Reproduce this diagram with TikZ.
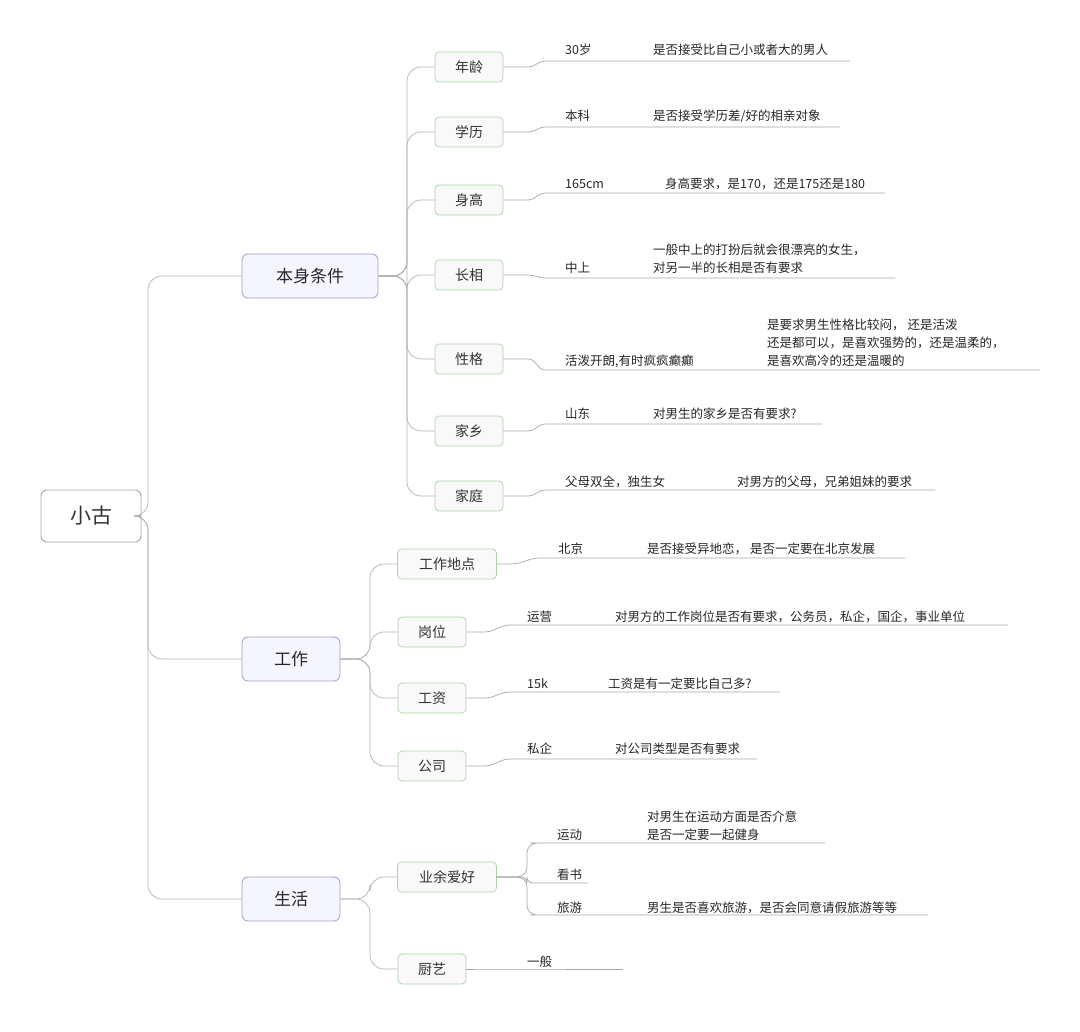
\documentclass[tikz,border=0pt]{standalone}
\usepackage{fontspec}
\setmainfont{Noto Sans CJK SC}
\usetikzlibrary{calc}
\begin{document}
\begin{tikzpicture}[x=1pt,y=-1pt,
  root/.style={draw=gray!70,fill=white,rounded corners=6,line width=0.9pt,minimum width=100pt,minimum height=52pt,font=\fontsize{21}{24}\selectfont,text=black!80},
  lone/.style={draw=blue!30!gray!60,fill=blue!4,rounded corners=6,line width=0.8pt,minimum height=44pt,font=\fontsize{17}{20}\selectfont,text=black!85},
  ltwo/.style={draw=green!30!gray!50,fill=green!6!gray!5,rounded corners=4,line width=0.7pt,minimum height=30pt,minimum width=68pt,font=\fontsize{14}{17}\selectfont,text=black!80},
  lt/.style={anchor=base west,inner sep=0pt,font=\fontsize{12.5}{18}\selectfont,text=black!85,align=left},
  ln/.style={draw=gray!70,line width=0.7pt},
  tr/.style={draw=gray!60,line width=0.7pt,rounded corners=14}]
\useasboundingbox (0,0) rectangle (1080,1032);
\node[root] (root) at (91,516) {小古};
\node[lone,minimum width=136pt] (b1) at (310,276) {本身条件};
\node[lone,minimum width=98pt] (b2) at (291,659) {工作};
\node[lone,minimum width=98pt] (b3) at (291,899) {生活};
\foreach \b in {b1,b2,b3} \draw[tr] (root.east) -- (148,516) |- (\b.west);
\foreach \n/\t/\y in {n1/年龄/67,n2/学历/132,n3/身高/200,n4/长相/275,n5/性格/359,n6/家乡/431,n7/家庭/496}{
  \node[ltwo] (\n) at (469,\y) {\t};
  \draw[tr] (b1.east) -- (407,276) |- (\n.west);}
\node[ltwo,minimum width=99pt] (m1) at (447,564) {工作地点};
\node[ltwo] (m2) at (432,632) {岗位};
\node[ltwo] (m3) at (432,698) {工资};
\node[ltwo] (m4) at (432,766) {公司};
\foreach \n in {m1,m2,m3,m4} \draw[tr] (b2.east) -- (370,659) |- (\n.west);
\node[ltwo,minimum width=99pt] (h1) at (447,877) {业余爱好};
\node[ltwo] (h2) at (432,969) {厨艺};
\foreach \n in {h1,h2} \draw[tr] (b3.east) -- (370,899) |- (\n.west);
\draw[ln] (n1.east) -- ++(25,0) to[out=0,in=180] (545,61) -- (850,61);
\node[lt] at (565,55) {30岁}; \node[lt] at (653,55) {是否接受比自己小或者大的男人};
\draw[ln] (n2.east) -- ++(25,0) to[out=0,in=180] (545,127) -- (840,127);
\node[lt] at (565,121) {本科}; \node[lt] at (653,121) {是否接受学历差/好的相亲对象};
\draw[ln] (n3.east) -- ++(25,0) to[out=0,in=180] (545,193) -- (885,193);
\node[lt] at (565,189) {165cm}; \node[lt] at (665,189) {身高要求，是170，还是175还是180};
\draw[ln] (n4.east) -- ++(25,0) to[out=0,in=180] (545,278) -- (895,278);
\node[lt] at (565,273) {中上}; \node[lt] at (653,273) {一般中上的打扮后就会很漂亮的女生，\\对另一半的长相是否有要求};
\draw[ln] (n5.east) -- ++(25,0) to[out=0,in=180] (545,370) -- (1040,370);
\node[lt] at (565,366) {活泼开朗,有时疯疯癫癫}; \node[lt] at (767,366) {是要求男生性格比较闷， 还是活泼\\还是都可以，是喜欢强势的，还是温柔的，\\是喜欢高冷的还是温暖的};
\draw[ln] (n6.east) -- ++(25,0) to[out=0,in=180] (545,424) -- (822,424);
\node[lt] at (565,419) {山东}; \node[lt] at (653,419) {对男生的家乡是否有要求?};
\draw[ln] (n7.east) -- ++(25,0) to[out=0,in=180] (545,490) -- (935,490);
\node[lt] at (565,486) {父母双全，独生女}; \node[lt] at (737,486) {对男方的父母，兄弟姐妹的要求};
\draw[ln] (m1.east) -- ++(14,0) to[out=0,in=180] (540,558) -- (905,558);
\node[lt] at (558,553) {北京}; \node[lt] at (647,553) {是否接受异地恋， 是否一定要在北京发展};
\draw[ln] (m2.east) -- ++(18,0) to[out=0,in=180] (510,625) -- (1008,625);
\node[lt] at (527,621) {运营}; \node[lt] at (615,621) {对男方的工作岗位是否有要求，公务员，私企，国企，事业单位};
\draw[ln] (m3.east) -- ++(18,0) to[out=0,in=180] (510,692) -- (780,692);
\node[lt] at (527,688) {15k}; \node[lt] at (608,688) {工资是有一定要比自己多?};
\draw[ln] (m4.east) -- ++(18,0) to[out=0,in=180] (510,759) -- (757,759);
\node[lt] at (527,753) {私企}; \node[lt] at (615,753) {对公司类型是否有要求};
\draw[ln,rounded corners=10] (h1.east) -- (527,877) |- (540,843) -- (825,843);
\draw[ln,rounded corners=10] (h1.east) -- (527,877) |- (540,915) -- (928,915);
\draw[ln,rounded corners=6] (h1.east) -- (527,877) |- (540,883) -- (588,883);
\node[lt] at (557,839) {运动}; \node[lt] at (647,839) {对男生在运动方面是否介意\\是否一定要一起健身};
\node[lt] at (557,879) {看书};
\node[lt] at (557,912) {旅游}; \node[lt] at (647,912) {男生是否喜欢旅游，是否会同意请假旅游等等};
\draw[ln] (h2.east) -- ++(18,0) to[out=0,in=180] (510,969) -- (623,969);
\node[lt] at (527,966) {一般};
\end{tikzpicture}
\end{document}
